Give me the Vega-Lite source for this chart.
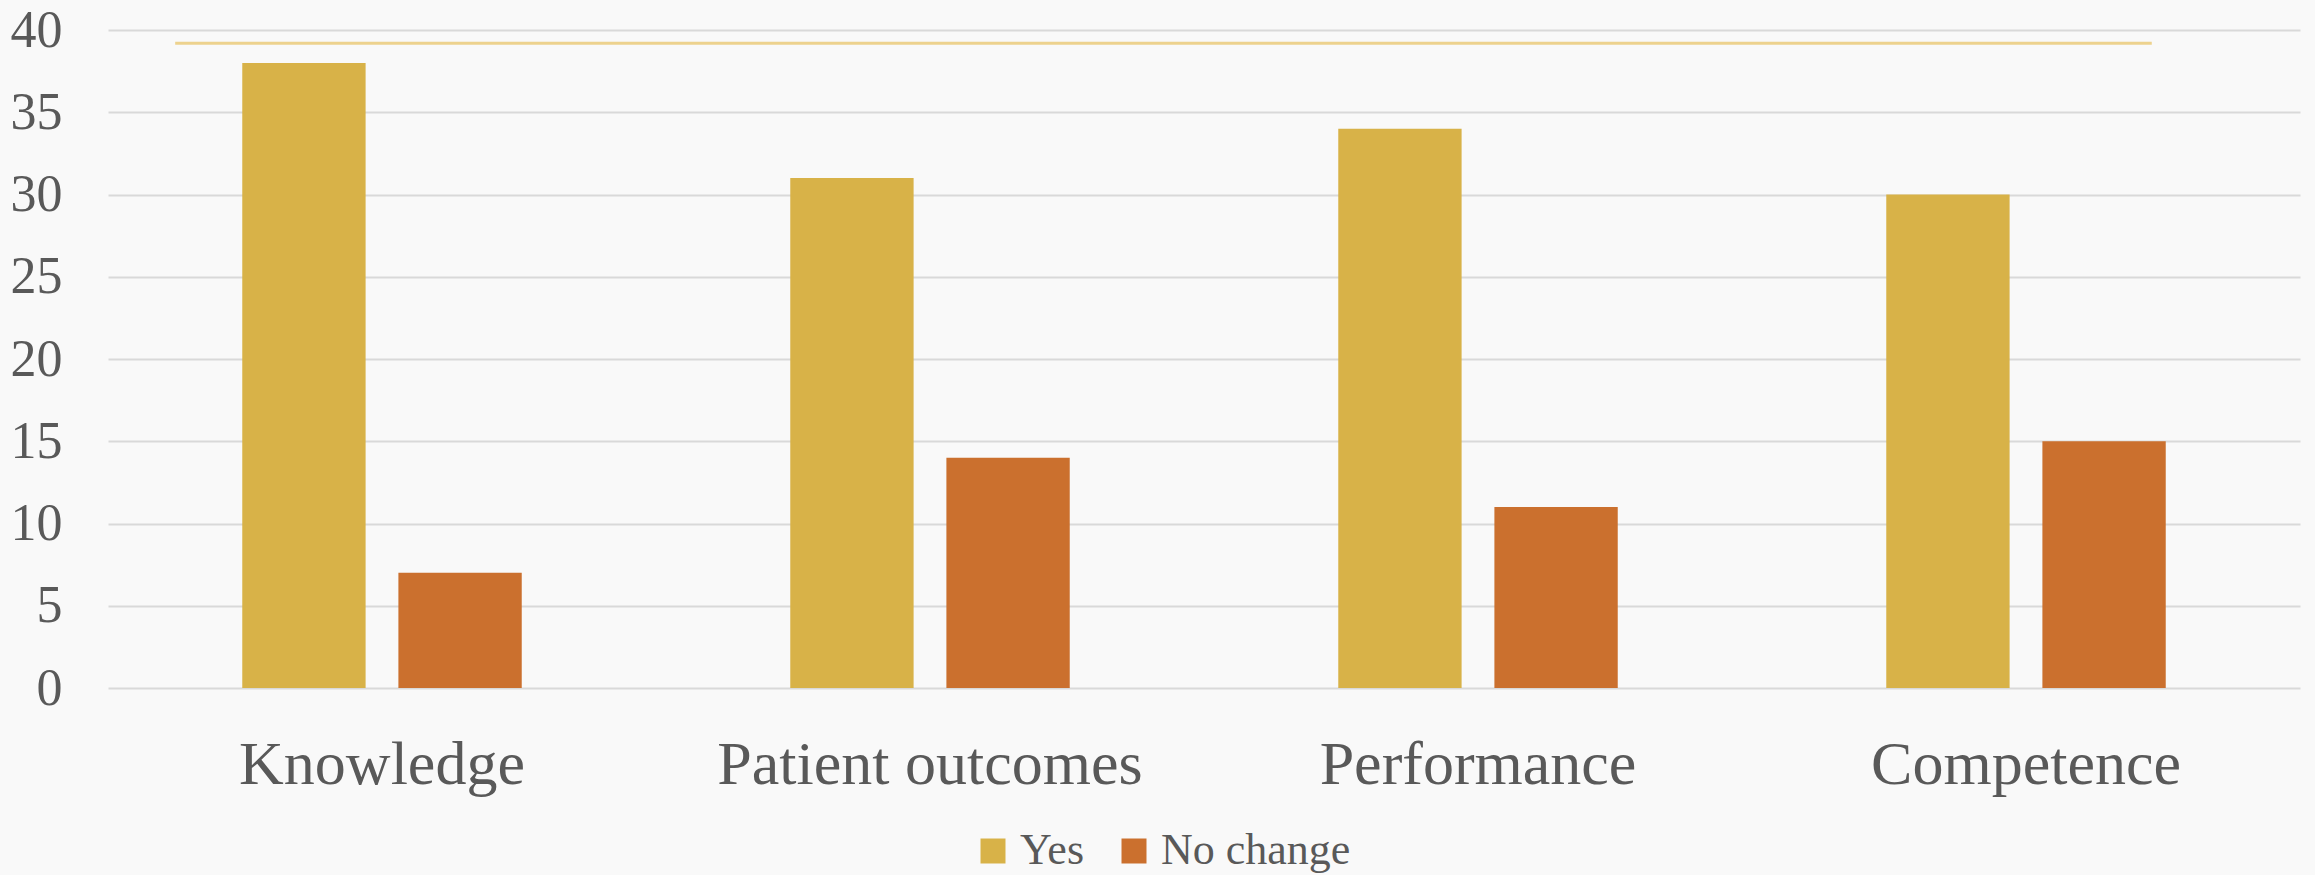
{
  "$schema": "https://vega.github.io/schema/vega-lite/v6.json",
  "width": 2192,
  "height": 658,
  "autosize": {"type": "none"},
  "padding": {"left": 108, "top": 30, "right": 15, "bottom": 187},
  "background": "#F9F9F9",
  "config": {"view": {"stroke": null}, "font": "Liberation Serif"},
  "datasets": {
    "bars": [
      {"category": "Knowledge", "series": "Yes", "value": 38},
      {"category": "Knowledge", "series": "No change", "value": 7},
      {"category": "Patient outcomes", "series": "Yes", "value": 31},
      {"category": "Patient outcomes", "series": "No change", "value": 14},
      {"category": "Performance", "series": "Yes", "value": 34},
      {"category": "Performance", "series": "No change", "value": 11},
      {"category": "Competence", "series": "Yes", "value": 30},
      {"category": "Competence", "series": "No change", "value": 15}
    ],
    "line": [{"from": "Knowledge", "to": "Competence", "level": 39.2}]
  },
  "layer": [
    {
      "data": {"name": "bars"},
      "mark": {"type": "bar"},
      "encoding": {
        "x": {
          "field": "category",
          "type": "nominal",
          "sort": null,
          "scale": {
            "domain": ["Knowledge", "Patient outcomes", "Performance", "Competence"],
            "paddingInner": 0.49,
            "paddingOuter": 0.245
          },
          "axis": {
            "title": null,
            "labelAngle": 0,
            "labelFontSize": 62,
            "labelColor": "#595959",
            "labelPadding": 46,
            "labelLimit": 0,
            "ticks": false,
            "domain": false,
            "grid": false
          }
        },
        "xOffset": {
          "field": "series",
          "type": "nominal",
          "scale": {"domain": ["Yes", "No change"], "paddingInner": 0.21, "paddingOuter": 0}
        },
        "y": {
          "field": "value",
          "type": "quantitative",
          "scale": {"domain": [0, 40], "nice": false},
          "axis": {
            "title": null,
            "values": [0, 5, 10, 15, 20, 25, 30, 35, 40],
            "labelFontSize": 52,
            "labelColor": "#595959",
            "labelPadding": 46,
            "ticks": false,
            "domain": false,
            "grid": true,
            "gridColor": "#D9D9D9",
            "gridWidth": 2
          }
        },
        "color": {
          "field": "series",
          "type": "nominal",
          "scale": {"domain": ["Yes", "No change"], "range": ["#D8B248", "#CB702E"]},
          "legend": {
            "title": null,
            "orient": "none",
            "legendX": 863,
            "legendY": 799,
            "direction": "horizontal",
            "symbolType": "square",
            "symbolSize": 625,
            "symbolStrokeWidth": 0,
            "labelFontSize": 44,
            "labelColor": "#595959",
            "labelLimit": 0,
            "labelOffset": 5,
            "columnPadding": 27,
            "padding": 0
          }
        }
      }
    },
    {
      "data": {"name": "line"},
      "mark": {"type": "rule", "color": "#EDD28E", "strokeWidth": 3},
      "encoding": {
        "y": {"field": "level", "type": "quantitative"},
        "x": {"field": "from", "type": "nominal", "bandPosition": -0.24},
        "x2": {"field": "to", "bandPosition": 0.95}
      }
    }
  ]
}
